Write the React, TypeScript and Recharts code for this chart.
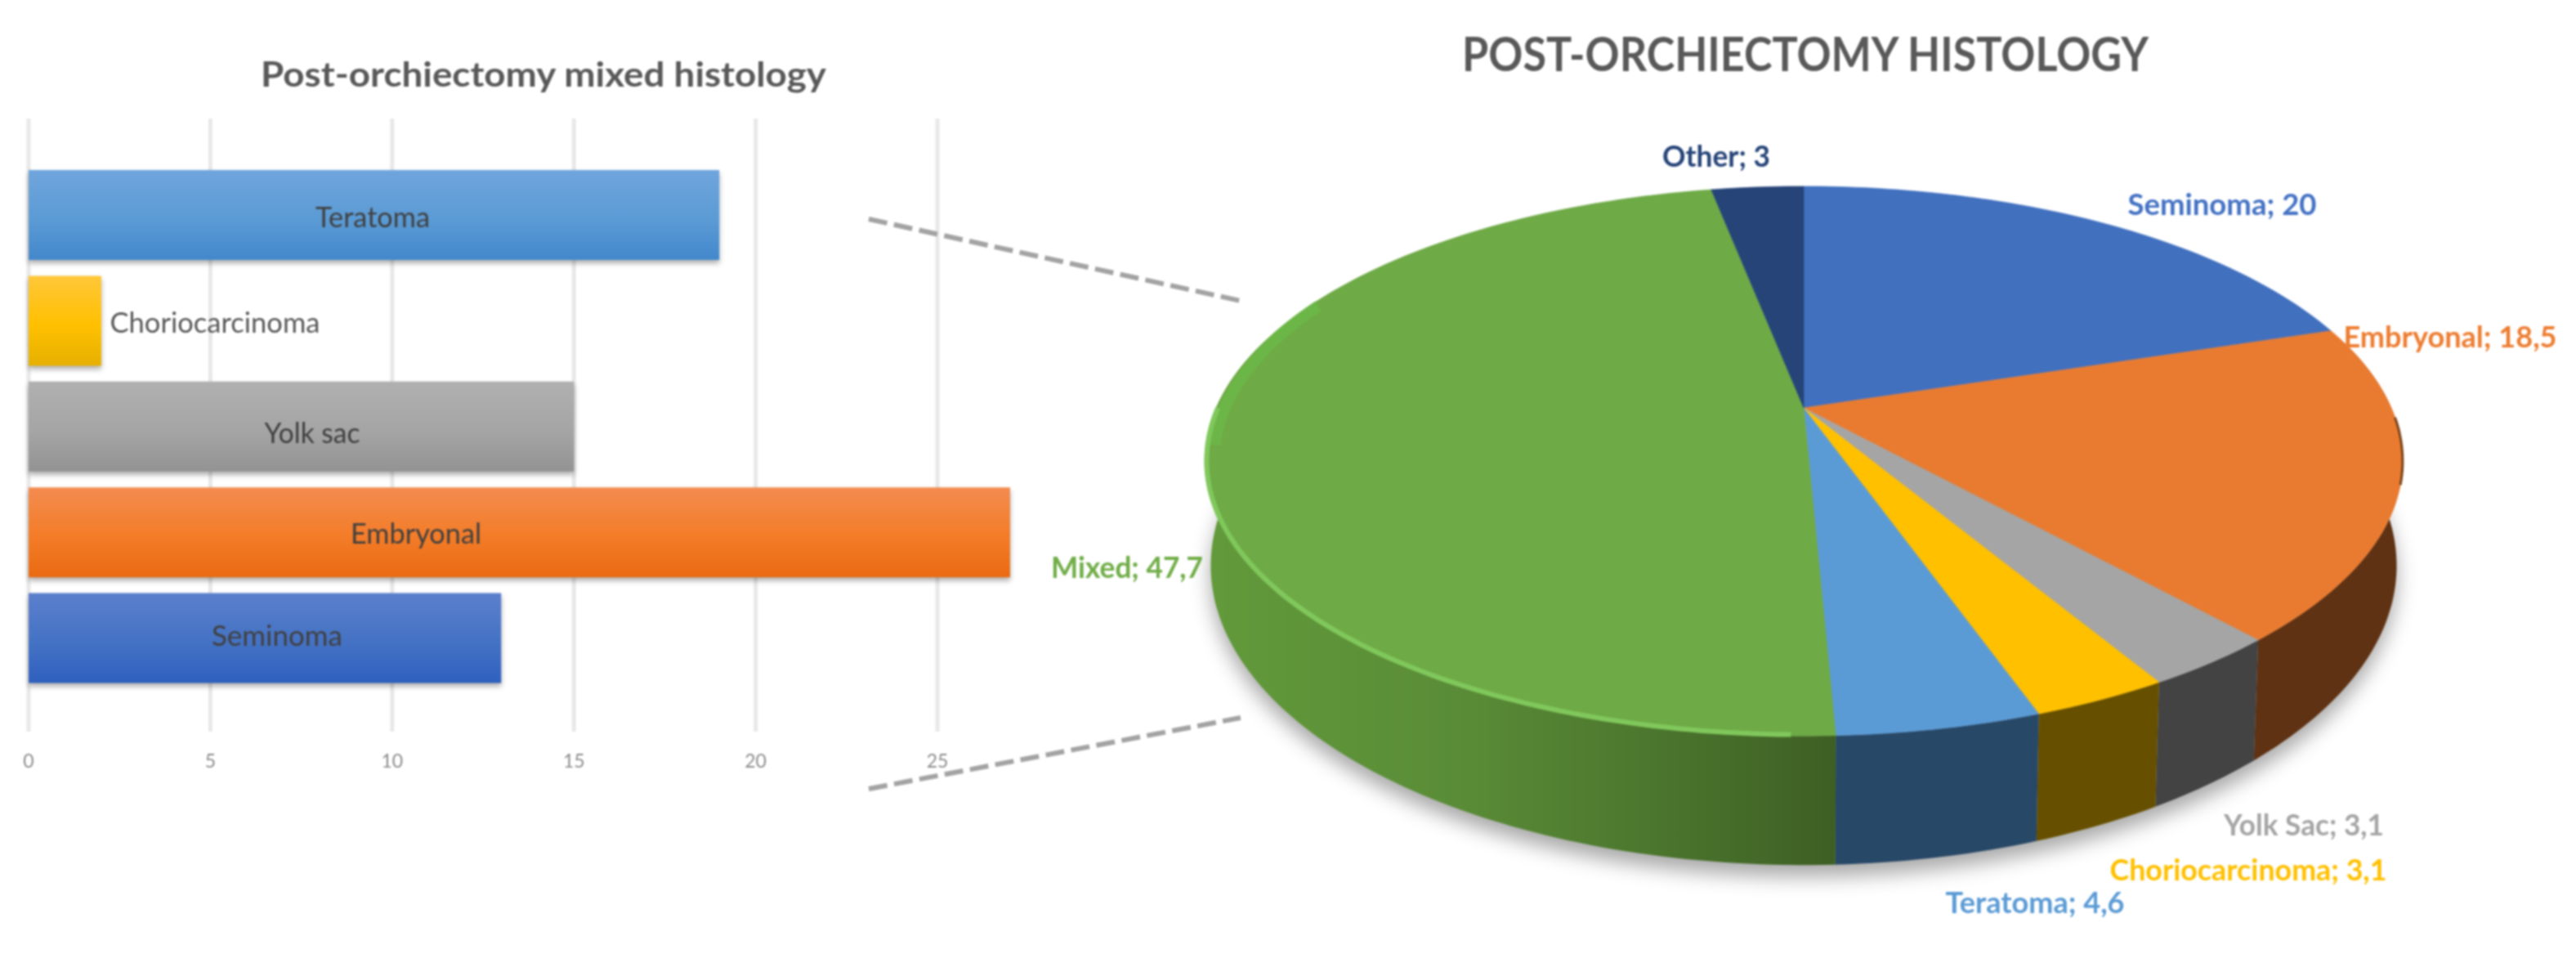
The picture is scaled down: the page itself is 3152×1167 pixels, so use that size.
import React from "react";
import { BarChart, Bar, XAxis, YAxis, CartesianGrid, Cell, PieChart, Pie } from "recharts";

// ---- data -----------------------------------------------------------------
const barCategories = ["Teratoma", "Choriocarcinoma", "Yolk sac", "Embryonal", "Seminoma"];
const barValues = [19, 2, 15, 27, 13];
const barTicks = [0, 5, 10, 15, 20, 25];
const pieCategories = ["Seminoma", "Embryonal", "Yolk Sac", "Choriocarcinoma", "Teratoma", "Mixed", "Other"];
const pieValues = [20, 18.5, 3.1, 3.1, 4.6, 47.7, 3];

const barTable = barCategories.map((name, i) => ({ name, value: barValues[i] }));
const pieTable = pieCategories.map((name, i) => ({ name, value: pieValues[i] }));

// ---- styles ---------------------------------------------------------------
const FONT = "Lato, 'Open Sans', sans-serif";
const barGradients: Record<string, [string, string, string]> = {
  Teratoma: ["#70a5dd", "#5b9bd5", "#4388cc"],
  Choriocarcinoma: ["#ffc73a", "#ffc000", "#e6b000"],
  "Yolk sac": ["#b0b0b0", "#a5a5a5", "#939393"],
  Embryonal: ["#f38c50", "#f47c28", "#e96a12"],
  Seminoma: ["#5b80cd", "#4472c4", "#2f60bf"],
};
const barLabelStyle: Record<string, { cx: number; w: number; dy: number }> = {
  Teratoma: { cx: 456, w: 140, dy: 1 },
  Choriocarcinoma: { cx: 263, w: 257, dy: 1 },
  "Yolk sac": { cx: 382, w: 117, dy: 7 },
  Embryonal: { cx: 509, w: 160, dy: 0 },
  Seminoma: { cx: 339, w: 160, dy: -4 },
};
const pieFace: Record<string, string> = {
  Seminoma: "#4170bf", Embryonal: "#e97b30", "Yolk Sac": "#a5a5a5", Choriocarcinoma: "#ffc000",
  Teratoma: "#5b9bd5", Mixed: "#6eaa46", Other: "#264478",
};
const pieSide: Record<string, string> = {
  Seminoma: "#223a64", Embryonal: "#5f3213", "Yolk Sac": "#434343", Choriocarcinoma: "#665000",
  Teratoma: "#284867", Mixed: "url(#mixedSide)", Other: "#15264a",
};
const pieLabelStyle: Record<string, { x: number; y: number; w: number; color: string }> = {
  Seminoma: { x: 2719, y: 248, w: 231, color: "#4472c4" },
  Embryonal: { x: 2998, y: 410, w: 261, color: "#ed7d31" },
  "Yolk Sac": { x: 2819, y: 1007, w: 196, color: "#a5a5a5" },
  Choriocarcinoma: { x: 2751, y: 1062, w: 339, color: "#ffc000" },
  Teratoma: { x: 2490, y: 1102, w: 219, color: "#5b9bd5" },
  Mixed: { x: 1379, y: 692, w: 186, color: "#70ad47" },
  Other: { x: 2100, y: 189, w: 132, color: "#264478" },
};

// ---- perspective projection of the pie disc --------------------------------
const K = 0.1935;
const Y_RATIO = 0.45;
const cy0 = 499;
const SIDE_FROM = 75;
const SIDE_TO = 285;
const project = (cx: number, cy: number, R: number, thetaDeg: number, r = 1) => {
  const t = (thetaDeg * Math.PI) / 180;
  const u = r * Math.sin(t);
  const v = r * Math.cos(t);
  const w = 1 + K * v;
  return { x: cx + (R * u) / w, y: cy - (R * Y_RATIO * v) / w };
};
const lower = (cx: number, p: { x: number; y: number }) => ({
  x: cx + (p.x - cx) * 0.99,
  y: p.y + 158 - 0.09 * (cy0 + 401 - p.y),
});
const pts = (a: { x: number; y: number }[]) => a.map((p) => `${p.x.toFixed(1)},${p.y.toFixed(1)}`).join(" ");
const arc = (cx: number, cy: number, R: number, a: number, b: number, r = 1) => {
  const n = Math.max(2, Math.ceil(Math.abs(b - a) / 1));
  const out = [];
  for (let i = 0; i <= n; i++) out.push(project(cx, cy, R, a + ((b - a) * i) / n, r));
  return out;
};

const PieSlice = (props: any) => {
  const { cx, cy, outerRadius: R, startAngle, endAngle, name } = props;
  const a = 90 - startAngle;
  const b = 90 - endAngle;
  const rim = arc(cx, cy, R, a, b);
  const sa = Math.max(a, SIDE_FROM);
  const sb = Math.min(b, SIDE_TO);
  let side = null;
  if (sb > sa) {
    const top = arc(cx, cy, R, sa, sb);
    const bottom = top.map((p) => lower(cx, p)).reverse();
    side = <polygon points={pts([...top, ...bottom])} fill={pieSide[name]} />;
  }
  let shadow = null;
  if (name === pieCategories[0]) {
    const whole = arc(cx, cy, R, SIDE_FROM, SIDE_TO).map((p) => lower(cx, p));
    shadow = (
      <g>
        <defs>
          <filter id="pieShadow" x="-10%" y="-30%" width="120%" height="160%">
            <feGaussianBlur stdDeviation="12" />
          </filter>
          <linearGradient id="mixedSide" gradientUnits="userSpaceOnUse" x1="1480" y1="0" x2="2246" y2="0">
            <stop offset="0" stopColor="#629a3b" />
            <stop offset="0.4" stopColor="#5a8c37" />
            <stop offset="0.7" stopColor="#4c772e" />
            <stop offset="1" stopColor="#3e5f24" />
          </linearGradient>
        </defs>
        <polygon
          points={pts(whole.map((p) => ({ x: p.x, y: p.y + 14 })))}
          fill="rgba(0,0,0,0.34)"
          filter="url(#pieShadow)"
        />
      </g>
    );
  }
  const extras =
    name === "Mixed" ? (
      <g fill="none">
        <polyline points={pts(arc(cx, cy, R, 262, 295, 0.985))} stroke="#6cb947" strokeWidth={14} strokeOpacity={0.8} />
        <polyline points={pts(arc(cx, cy, R, 181, 270, 0.997))} stroke="#80c85c" strokeWidth={6} />
      </g>
    ) : name === "Embryonal" ? (
      <polyline points={pts(arc(cx, cy, R, 92, 106))} fill="none" stroke="#7a4218" strokeWidth={3} />
    ) : null;
  return (
    <g>
      {shadow}
      {side}
      <polygon points={pts([{ x: cx, y: cy }, ...rim])} fill={pieFace[name]} stroke={pieFace[name]} strokeWidth={0.6} />
      {extras}
    </g>
  );
};

const pieLabel = (props: any) => {
  const s = pieLabelStyle[props.name];
  const text = `${props.name}; ${String(props.value).replace(".", ",")}`;
  return (
    <text
      x={s.x}
      y={s.y}
      textAnchor="middle"
      dominantBaseline="central"
      fontFamily={FONT}
      fontWeight={700}
      fontSize={37}
      fill={s.color}
      textLength={s.w}
      lengthAdjust="spacingAndGlyphs"
    >
      {text}
    </text>
  );
};

const barLabel = (props: any) => {
  const name = barCategories[props.index];
  const s = barLabelStyle[name];
  return (
    <text
      x={s.cx}
      y={props.y + props.height / 2 + s.dy}
      textAnchor="middle"
      dominantBaseline="central"
      fontFamily={FONT}
      fontSize={34}
      fill={name === "Choriocarcinoma" ? "#595959" : "#404040"}
      textLength={s.w}
      lengthAdjust="spacingAndGlyphs"
    >
      {name}
    </text>
  );
};

const gradId = (i: number) => `barGrad${i}`;

export default function App() {
  const layer: React.CSSProperties = { position: "absolute", left: 0, top: 0 };
  return (
    <div
      style={{
        position: "absolute",
        left: 0,
        top: 0,
        width: 3152,
        height: 1167,
        overflow: "hidden",
        background: "#fff",
        filter: "blur(1.1px)",
      }}
    >
      <svg width={3152} height={1167} style={layer}>
        <text
          x={665}
          y={90}
          textAnchor="middle"
          dominantBaseline="central"
          fontFamily={FONT}
          fontWeight={700}
          fontSize={42}
          fill="#595959"
          textLength={692}
          lengthAdjust="spacingAndGlyphs"
        >
          Post-orchiectomy mixed histology
        </text>
        <text
          x={2209}
          y={64}
          textAnchor="middle"
          dominantBaseline="central"
          fontFamily={FONT}
          fontWeight={700}
          fontSize={58}
          fill="#595959"
          textLength={840}
          lengthAdjust="spacingAndGlyphs"
        >
          POST-ORCHIECTOMY HISTOLOGY
        </text>
      </svg>

      <div style={layer}>
        <BarChart
          width={1400}
          height={1167}
          layout="vertical"
          data={barTable}
          margin={{ top: 145, right: 164, bottom: 232, left: 35 }}
        >
          <defs>
            {barCategories.map((n, i) => (
              <linearGradient key={n} id={gradId(i)} x1="0" y1="0" x2="0" y2="1">
                <stop offset="0" stopColor={barGradients[n][0]} />
                <stop offset="0.55" stopColor={barGradients[n][1]} />
                <stop offset="1" stopColor={barGradients[n][2]} />
              </linearGradient>
            ))}
          </defs>
          <CartesianGrid horizontal={false} stroke="#e8e8e8" strokeWidth={5} syncWithTicks verticalValues={barTicks} />
          <XAxis
            type="number"
            domain={[0, 27]}
            ticks={barTicks}
            height={40}
            axisLine={false}
            tickLine={false}
            tick={{ fontFamily: FONT, fontSize: 23, fill: "#8c8c8c" }}
            tickMargin={22}
          />
          <YAxis type="category" dataKey="name" hide padding={{ top: 53, bottom: 50 }} />
          <Bar
            dataKey="value"
            barSize={110}
            isAnimationActive={false}
            label={barLabel}
            style={{ filter: "drop-shadow(0 4px 3px rgba(0,0,0,0.32))" }}
          >
            {barCategories.map((n, i) => (
              <Cell key={n} fill={`url(#${gradId(i)})`} />
            ))}
          </Bar>
        </BarChart>
      </div>

      <svg width={3152} height={1167} style={layer}>
        <line x1={1063} y1={268} x2={1518} y2={368} stroke="#a3a3a3" strokeWidth={6} strokeDasharray="23 8.5" />
        <line x1={1063} y1={965} x2={1518} y2={878} stroke="#a3a3a3" strokeWidth={6} strokeDasharray="23 8.5" />
      </svg>

      <div style={layer}>
        <PieChart width={3152} height={1167} margin={{ top: 0, right: 0, bottom: 0, left: 0 }}>
          <Pie
            data={pieTable}
            dataKey="value"
            nameKey="name"
            cx={2207}
            cy={cy0}
            innerRadius={0}
            outerRadius={719}
            startAngle={90}
            endAngle={-270}
            stroke="none"
            isAnimationActive={false}
            shape={PieSlice}
            inactiveShape={PieSlice}
            activeShape={PieSlice}
            label={pieLabel}
            labelLine={false}
          />
        </PieChart>
      </div>
    </div>
  );
}
